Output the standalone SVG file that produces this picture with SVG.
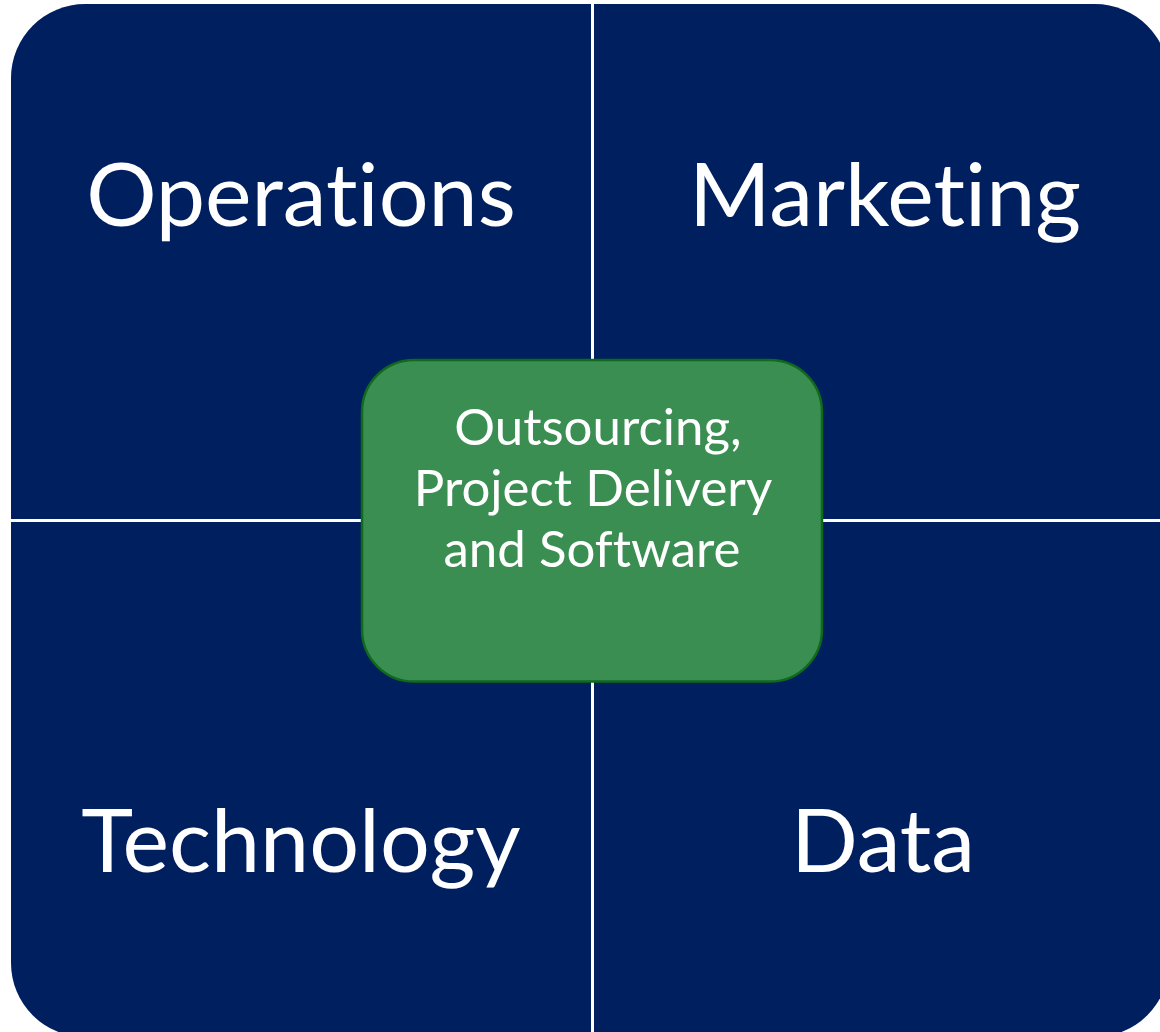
<svg xmlns="http://www.w3.org/2000/svg" width="1160" height="1032" viewBox="0 0 1160 1032">
  <style>
    .quad { fill: #001F5F; }
    .big { font-family: Lato, "Liberation Sans", sans-serif; font-size: 88px; fill: #FFFFFF; text-anchor: middle; font-variant-ligatures: none; }
    .hub { fill: #3A8E52; stroke: #0F6A1C; stroke-width: 2.5; }
    .small { font-family: Lato, "Liberation Sans", sans-serif; font-size: 51px; fill: #FFFFFF; text-anchor: middle; font-variant-ligatures: none; }
  </style>
  <rect width="1160" height="1032" fill="#FFFFFF"/>
  <g id="operations">
    <path class="quad" d="M11,78 A74,74 0 0 1 85,4 H591 V519 H11 Z"/>
    <text class="big" x="301" y="226">Operations</text>
  </g>
  <g id="marketing">
    <path class="quad" d="M594,4 H1095 A74,74 0 0 1 1169,78 V519 H594 Z"/>
    <text class="big" x="885" y="226">Marketing</text>
  </g>
  <g id="technology">
    <path class="quad" d="M11,522 H591 V1037 H85 A74,74 0 0 1 11,963 Z"/>
    <text class="big" x="301" y="872">Technology</text>
  </g>
  <g id="data">
    <path class="quad" d="M594,522 H1169 V963 A74,74 0 0 1 1095,1037 H594 Z"/>
    <text class="big" x="883" y="872">Data</text>
  </g>
  <g id="connectors"></g>
  <g id="center">
    <rect class="hub" x="362" y="360" width="460" height="321.5" rx="52" ry="52"/>
    <text class="small" x="598" y="445">Outsourcing,</text>
    <text class="small" x="593" y="506">Project Delivery</text>
    <text class="small" x="592" y="567">and Software</text>
  </g>
</svg>
